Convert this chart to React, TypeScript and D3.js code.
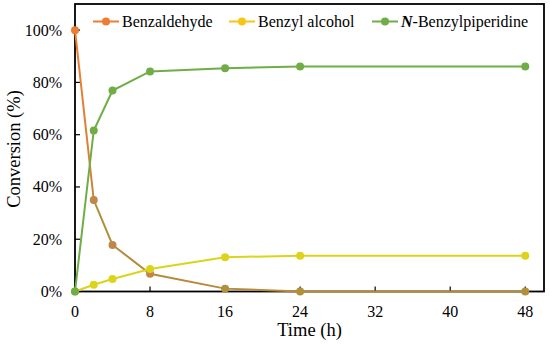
import * as d3 from 'd3';

const times = [0, 2, 4, 8, 16, 24, 48];
const benzaldehyde = [100, 35, 17.8, 6.8, 1.1, 0, 0];
const benzylAlcohol = [0, 2.6, 4.8, 8.6, 13.1, 13.7, 13.7];
const benzylpiperidine = [0, 61.6, 76.9, 84.2, 85.4, 86.1, 86.1];
const xTicks = [0, 8, 16, 24, 32, 40, 48];
const yTicks = [0, 20, 40, 60, 80, 100];

const left = 75;
const right = 544;
const top = 4;
const bottom = 291.5;

const x = d3.scaleLinear().domain([0, 50]).range([left, right]);
const y = d3.scaleLinear().domain([0, 110]).range([bottom, top]);

const line = d3.line<[number, number]>()
  .x((d) => x(d[0]))
  .y((d) => y(d[1]));

const series = [
  { key: 'bz', values: benzaldehyde, stroke: 'url(#bzGrad)', point: (v: number) => (v > 50 ? '#ED7D31' : v > 5 ? '#C0874A' : '#B0913A') },
  { key: 'ba', values: benzylAlcohol, stroke: '#DCD41A', point: () => '#DCD41A' },
  { key: 'bp', values: benzylpiperidine, stroke: '#70AD47', point: () => '#70AD47' },
];

const legend = [
  { label: 'Benzaldehyde', color: '#ED7D31', x0: 93 },
  { label: 'Benzyl alcohol', color: '#F5C518', x0: 229 },
  { label: 'Benzylpiperidine', color: '#70AD47', x0: 372, italicN: true },
];

const App = () => {
  const ly = 21.5;
  return (
    <svg width={550} height={345} fontFamily="Liberation Serif" fontSize={16}
      style={{ position: 'absolute', left: 0, top: 0, display: 'block', background: '#fff', fontFamily: 'Liberation Serif' }}>
      <defs>
        {/* benzaldehyde reads orange at the top and brownish lower down in the figure */}
        <linearGradient id="bzGrad" gradientUnits="userSpaceOnUse" x1={0} x2={0} y1={y(100)} y2={y(0)}>
          <stop offset="0%" stopColor="#ED7D31" />
          <stop offset="55%" stopColor="#D9803A" />
          <stop offset="66%" stopColor="#AE8F3A" />
          <stop offset="100%" stopColor="#B8893A" />
        </linearGradient>
      </defs>

      {yTicks.map((t) => (
        <g key={'y' + t}>
          <line x1={left} x2={left + 5} y1={y(t)} y2={y(t)} stroke="#000" strokeWidth={1.2} />
          <text x={left - 13} y={y(t) + 5.5} textAnchor="end">{`${t}%`}</text>
        </g>
      ))}
      {xTicks.map((t) => (
        <g key={'x' + t}>
          <line x1={x(t)} x2={x(t)} y1={bottom} y2={bottom - 5} stroke="#000" strokeWidth={1.2} />
          <text x={x(t)} y={317} textAnchor="middle">{t}</text>
        </g>
      ))}

      <rect x={left} y={top} width={right - left} height={bottom - top} fill="none" stroke="#000" strokeWidth={1.8} />

      {series.map((s) => {
        const pts = times.map((t, i) => [t, s.values[i]] as [number, number]);
        return (
          <g key={s.key}>
            <path d={line(pts) ?? ''} fill="none" stroke={s.stroke} strokeWidth={2} />
            {pts.map((d, i) => (
              <circle key={i} cx={x(d[0])} cy={y(d[1])} r={4} fill={s.point(d[1])} />
            ))}
          </g>
        );
      })}

      {legend.map((l) => (
        <g key={l.label}>
          <line x1={l.x0} x2={l.x0 + 26} y1={ly} y2={ly} stroke={l.color} strokeWidth={2} />
          <circle cx={l.x0 + 13} cy={ly} r={4} fill={l.color} />
          <text x={l.x0 + 29} y={ly + 5.5}>
            {l.italicN ? (
              <>
                <tspan fontWeight="bold" fontStyle="italic">N</tspan>
                <tspan>{'-' + l.label}</tspan>
              </>
            ) : l.label}
          </text>
        </g>
      ))}

      <text x={(left + right) / 2} y={336} textAnchor="middle" fontSize={18.5}>Time (h)</text>
      <text transform="translate(20,149) rotate(-90)" textAnchor="middle" fontSize={18.5}>
        Conversion (%)
      </text>
    </svg>
  );
};

export default App;
